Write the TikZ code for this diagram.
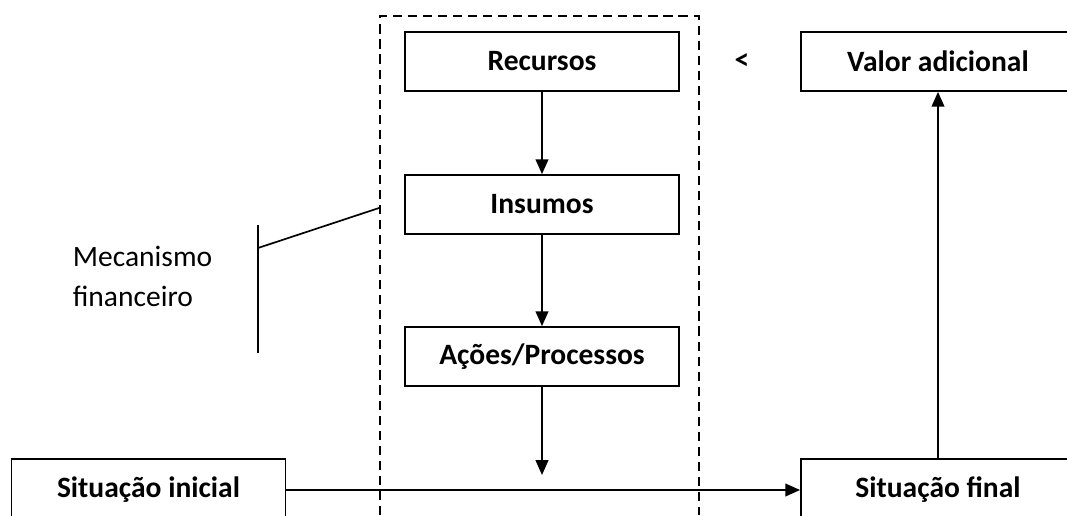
\documentclass[tikz,border=0pt]{standalone}
\usepackage{fontspec}
\setmainfont{Carlito}
\usepackage{tikz}
\usetikzlibrary{positioning,arrows.meta}

\begin{document}
\begin{tikzpicture}[x=0.025cm,y=-0.025cm,line width=1.2pt,
	>={Triangle[length=10.5pt,width=9pt]},
	every node/.style={font=\fontsize{21}{25}\selectfont\bfseries},
	box/.style={draw=black,minimum width=6.85cm,minimum height=1.475cm,inner sep=0pt}]
		\useasboundingbox (0,0) rectangle (1067,515);

		%dashed frame
		\draw[dash pattern=on 6.5pt off 4.2pt] (380,515) -- (380,16) -- (699,16) -- (699,515);

		%middle boxes
		\node[box] (n1) at (542,61.5) {Recursos};
		\node[box] (n2) at (542,204.5) {Insumos};
		\node[box] (n3) at (542,356.5) {Ações/Processos};
		\coordinate (c1) at (542,475);

		%bottom boxes
		\node[box,minimum height=1.55cm] (n4) at (148.5,490) {Situação inicial};
		\node[box,minimum height=1.55cm] (n5) at (938,490) {Situação final};

		%top right
		\node[box] (n6) at (938,61.5) {Valor adicional};
		\node (n7) at (742,62) {<};

		%mechanism
		\node[font=\fontsize{21}{28.4}\selectfont,align=left,anchor=west,inner sep=0pt] (n8) at (72,276) {Mecanismo\\financeiro};
		\coordinate (c2) at (258,225);
		\coordinate (c3) at (258,353);
		\coordinate (c4) at (258,248);
		\coordinate (c5) at (379,208);

		%edges
		\draw[->] (n1) -- (n2);
		\draw[->] (n2) -- (n3);
		\draw[->] (n3) -- (c1);
		\draw[->] (n4) -- (n5);
		\draw[->] (n5) -- (n6);
		\draw (c2) -- (c3);
		\draw (c4) -- (c5);

		\end{tikzpicture}
\end{document}
